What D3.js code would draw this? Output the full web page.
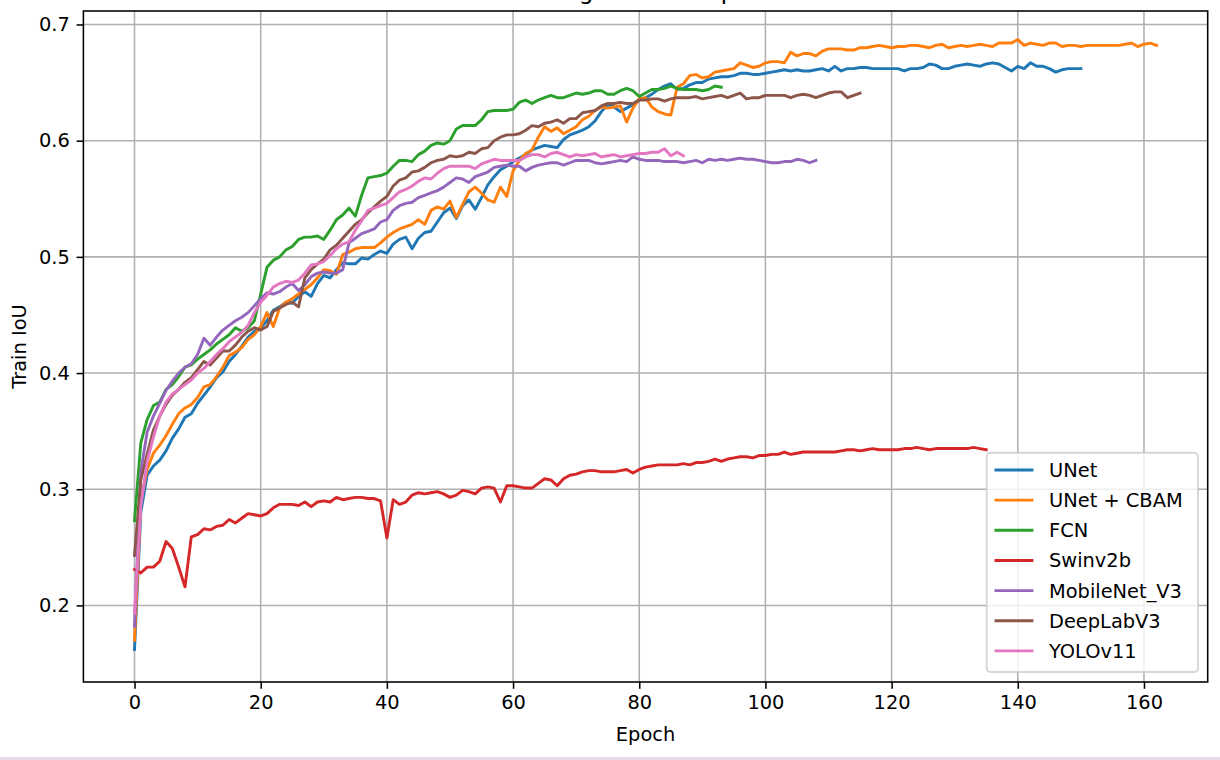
<!DOCTYPE html>
<html lang="en">
<head>
<meta charset="UTF-8">
<title>Train IoU per Epoch</title>
<script src="https://cdn.jsdelivr.net/npm/d3@7"></script>
<style>
  body { margin: 0; background: #fff; }
  svg { display: block; font-family: "DejaVu Sans", sans-serif; }
  .tick text { font-size: 19.4px; fill: #000; }
</style>
</head>
<body>
<svg width="1220" height="760"></svg>
<script>
// tick labels
const xTicks = [0, 20, 40, 60, 80, 100, 120, 140, 160];
const yTicks = [0.2, 0.3, 0.4, 0.5, 0.6, 0.7];

// legend order and colours (matplotlib tab10)
const seriesNames = ["UNet", "UNet + CBAM", "FCN", "Swinv2b", "MobileNet_V3", "DeepLabV3", "YOLOv11"];
const seriesColors = ["#1f77b4", "#ff7f0e", "#2ca02c", "#d62728", "#9467bd", "#8c564b", "#e377c2"];

// train IoU per epoch, epoch = index
const unet = [
  0.162, 0.280, 0.312, 0.320, 0.325, 0.333, 0.344, 0.352, 0.362, 0.365,
  0.374, 0.381, 0.388, 0.396, 0.401, 0.410, 0.416, 0.423, 0.431, 0.436,
  0.439, 0.445, 0.454, 0.457, 0.461, 0.460, 0.466, 0.470, 0.466, 0.477,
  0.484, 0.482, 0.489, 0.495, 0.494, 0.494, 0.499, 0.498, 0.502, 0.505,
  0.503, 0.511, 0.515, 0.517, 0.507, 0.516, 0.521, 0.522, 0.530, 0.538,
  0.542, 0.533, 0.544, 0.549, 0.541, 0.551, 0.562, 0.569, 0.575, 0.578,
  0.582, 0.585, 0.588, 0.592, 0.594, 0.596, 0.595, 0.594, 0.601, 0.605,
  0.607, 0.609, 0.612, 0.617, 0.625, 0.631, 0.629, 0.625, 0.628, 0.631,
  0.635, 0.637, 0.640, 0.644, 0.647, 0.649, 0.644, 0.645, 0.648, 0.650,
  0.650, 0.653, 0.654, 0.655, 0.655, 0.656, 0.658, 0.658, 0.657, 0.657,
  0.658, 0.659, 0.660, 0.661, 0.660, 0.661, 0.660, 0.660, 0.661, 0.662,
  0.660, 0.664, 0.660, 0.662, 0.662, 0.663, 0.663, 0.662, 0.662, 0.662,
  0.662, 0.662, 0.660, 0.662, 0.662, 0.663, 0.666, 0.665, 0.662, 0.662,
  0.664, 0.665, 0.666, 0.665, 0.664, 0.666, 0.667, 0.666, 0.663, 0.660,
  0.664, 0.662, 0.667, 0.664, 0.664, 0.662, 0.659, 0.661, 0.662, 0.662, 0.662
];
const unetCbam = [
  0.170, 0.290, 0.317, 0.331, 0.338, 0.346, 0.356, 0.365, 0.370, 0.373,
  0.379, 0.388, 0.390, 0.397, 0.405, 0.415, 0.418, 0.422, 0.429, 0.433,
  0.440, 0.452, 0.440, 0.456, 0.461, 0.464, 0.468, 0.472, 0.476, 0.482,
  0.489, 0.488, 0.485, 0.502, 0.504, 0.507, 0.508, 0.508, 0.508, 0.512,
  0.517, 0.521, 0.524, 0.526, 0.528, 0.532, 0.528, 0.540, 0.543, 0.541,
  0.548, 0.534, 0.545, 0.556, 0.560, 0.555, 0.549, 0.547, 0.560, 0.552,
  0.574, 0.583, 0.589, 0.592, 0.603, 0.612, 0.608, 0.611, 0.606, 0.609,
  0.612, 0.618, 0.621, 0.626, 0.629, 0.628, 0.629, 0.630, 0.616, 0.628,
  0.636, 0.637, 0.629, 0.625, 0.623, 0.622, 0.646, 0.649, 0.656, 0.657,
  0.654, 0.655, 0.659, 0.660, 0.661, 0.662, 0.667, 0.665, 0.663, 0.664,
  0.667, 0.668, 0.668, 0.667, 0.676, 0.673, 0.675, 0.675, 0.673, 0.677,
  0.679, 0.679, 0.679, 0.678, 0.678, 0.680, 0.680, 0.681, 0.682, 0.681,
  0.680, 0.681, 0.681, 0.682, 0.682, 0.681, 0.680, 0.682, 0.683, 0.680,
  0.681, 0.682, 0.681, 0.682, 0.683, 0.682, 0.681, 0.684, 0.684, 0.684,
  0.687, 0.682, 0.684, 0.683, 0.682, 0.684, 0.684, 0.681, 0.682, 0.682,
  0.681, 0.682, 0.682, 0.682, 0.682, 0.682, 0.682, 0.683, 0.684, 0.681,
  0.683, 0.684, 0.682
];
const fcn = [
  0.273, 0.340, 0.360, 0.372, 0.375, 0.386, 0.390, 0.397, 0.405, 0.407,
  0.412, 0.416, 0.420, 0.425, 0.429, 0.433, 0.439, 0.436, 0.439, 0.445,
  0.468, 0.491, 0.497, 0.500, 0.506, 0.509, 0.515, 0.517, 0.517, 0.518,
  0.515, 0.523, 0.532, 0.536, 0.542, 0.535, 0.553, 0.568, 0.569, 0.570,
  0.572, 0.578, 0.583, 0.583, 0.582, 0.588, 0.591, 0.596, 0.598, 0.597,
  0.600, 0.610, 0.613, 0.613, 0.613, 0.618, 0.625, 0.626, 0.626, 0.626,
  0.627, 0.633, 0.635, 0.632, 0.635, 0.637, 0.639, 0.637, 0.637, 0.639,
  0.641, 0.640, 0.641, 0.643, 0.643, 0.640, 0.640, 0.643, 0.645, 0.643,
  0.638, 0.641, 0.644, 0.644, 0.645, 0.647, 0.645, 0.644, 0.644, 0.644,
  0.643, 0.644, 0.647, 0.646
];
const swinv2b = [
  0.231, 0.228, 0.233, 0.233, 0.238, 0.255, 0.249, 0.233, 0.216, 0.259,
  0.261, 0.266, 0.265, 0.268, 0.269, 0.274, 0.271, 0.275, 0.279, 0.278,
  0.277, 0.279, 0.284, 0.287, 0.287, 0.287, 0.286, 0.289, 0.285, 0.289,
  0.290, 0.289, 0.293, 0.291, 0.292, 0.293, 0.293, 0.292, 0.292, 0.290,
  0.258, 0.291, 0.287, 0.289, 0.295, 0.297, 0.296, 0.297, 0.298, 0.296,
  0.293, 0.295, 0.299, 0.298, 0.296, 0.301, 0.302, 0.301, 0.289, 0.303,
  0.303, 0.302, 0.301, 0.301, 0.305, 0.309, 0.308, 0.303, 0.309, 0.312,
  0.313, 0.315, 0.316, 0.316, 0.315, 0.315, 0.315, 0.316, 0.317, 0.314,
  0.317, 0.319, 0.320, 0.321, 0.321, 0.321, 0.321, 0.322, 0.321, 0.323,
  0.323, 0.324, 0.326, 0.324, 0.326, 0.327, 0.328, 0.328, 0.327, 0.329,
  0.329, 0.330, 0.330, 0.332, 0.330, 0.331, 0.332, 0.332, 0.332, 0.332,
  0.332, 0.332, 0.333, 0.334, 0.334, 0.333, 0.334, 0.335, 0.334, 0.334,
  0.334, 0.334, 0.335, 0.335, 0.336, 0.335, 0.334, 0.335, 0.335, 0.335,
  0.335, 0.335, 0.335, 0.336, 0.335, 0.334
];
const mobilenetV3 = [
  0.182, 0.315, 0.349, 0.363, 0.374, 0.385, 0.393, 0.400, 0.405, 0.408,
  0.416, 0.430, 0.424, 0.431, 0.437, 0.441, 0.445, 0.448, 0.452, 0.458,
  0.464, 0.469, 0.468, 0.470, 0.474, 0.477, 0.471, 0.476, 0.483, 0.486,
  0.487, 0.486, 0.486, 0.489, 0.512, 0.516, 0.520, 0.522, 0.524, 0.530,
  0.532, 0.540, 0.544, 0.546, 0.547, 0.551, 0.553, 0.555, 0.557, 0.560,
  0.564, 0.568, 0.567, 0.564, 0.569, 0.571, 0.573, 0.577, 0.578, 0.579,
  0.578, 0.578, 0.574, 0.577, 0.579, 0.580, 0.581, 0.581, 0.579, 0.581,
  0.583, 0.583, 0.583, 0.581, 0.580, 0.581, 0.582, 0.583, 0.582, 0.586,
  0.584, 0.583, 0.583, 0.583, 0.582, 0.582, 0.582, 0.581, 0.582, 0.583,
  0.581, 0.584, 0.583, 0.584, 0.583, 0.584, 0.585, 0.584, 0.584, 0.583,
  0.582, 0.581, 0.581, 0.582, 0.582, 0.584, 0.583, 0.581, 0.583
];
const deeplabV3 = [
  0.243, 0.308, 0.330, 0.351, 0.363, 0.373, 0.381, 0.386, 0.392, 0.396,
  0.403, 0.410, 0.407, 0.413, 0.419, 0.419, 0.424, 0.431, 0.436, 0.439,
  0.437, 0.440, 0.453, 0.456, 0.459, 0.461, 0.457, 0.482, 0.489, 0.494,
  0.498, 0.506, 0.510, 0.516, 0.522, 0.528, 0.532, 0.538, 0.543, 0.548,
  0.552, 0.561, 0.566, 0.568, 0.573, 0.574, 0.577, 0.581, 0.583, 0.584,
  0.587, 0.586, 0.587, 0.590, 0.589, 0.593, 0.594, 0.600, 0.603, 0.605,
  0.605, 0.606, 0.609, 0.613, 0.612, 0.615, 0.616, 0.618, 0.615, 0.619,
  0.619, 0.624, 0.625, 0.626, 0.630, 0.632, 0.632, 0.633, 0.632, 0.632,
  0.635, 0.635, 0.636, 0.636, 0.634, 0.636, 0.637, 0.637, 0.637, 0.638,
  0.636, 0.637, 0.638, 0.639, 0.637, 0.639, 0.641, 0.636, 0.637, 0.637,
  0.639, 0.639, 0.639, 0.639, 0.637, 0.639, 0.640, 0.639, 0.637, 0.639,
  0.641, 0.642, 0.642, 0.637, 0.639, 0.641
];
const yolov11 = [
  0.193, 0.285, 0.324, 0.345, 0.363, 0.375, 0.382, 0.386, 0.390, 0.394,
  0.400, 0.404, 0.410, 0.416, 0.421, 0.427, 0.431, 0.435, 0.441, 0.452,
  0.461, 0.467, 0.474, 0.477, 0.479, 0.478, 0.480, 0.486, 0.493, 0.494,
  0.496, 0.501, 0.507, 0.511, 0.513, 0.523, 0.531, 0.540, 0.542, 0.544,
  0.546, 0.551, 0.556, 0.558, 0.561, 0.565, 0.568, 0.567, 0.572, 0.576,
  0.578, 0.578, 0.578, 0.578, 0.576, 0.580, 0.582, 0.584, 0.583, 0.583,
  0.583, 0.583, 0.586, 0.588, 0.588, 0.586, 0.589, 0.590, 0.588, 0.586,
  0.588, 0.587, 0.588, 0.589, 0.586, 0.587, 0.588, 0.586, 0.587, 0.588,
  0.589, 0.589, 0.590, 0.590, 0.593, 0.587, 0.590, 0.587
];

const seriesValues = [unet, unetCbam, fcn, swinv2b, mobilenetV3, deeplabV3, yolov11];

// plot box
const margin = { left: 83.4, right: 1207.7, top: 11, bottom: 682 };
const px = 140 / 72; // points to pixels

const svg = d3.select("svg");

// bottom strip of the screenshot
svg.append("rect")
  .attr("x", 0).attr("y", 757).attr("width", 1220).attr("height", 3)
  .attr("fill", "#ecd9e8");

const x = d3.scaleLinear().domain([-8.1, 170.1]).range([margin.left, margin.right]);
const y = d3.scaleLinear().domain([0.1341, 0.7116]).range([margin.bottom, margin.top]);

svg.append("defs").append("clipPath").attr("id", "plotClip")
  .append("rect")
  .attr("x", margin.left).attr("y", margin.top)
  .attr("width", margin.right - margin.left)
  .attr("height", margin.bottom - margin.top);

// grid
const grid = svg.append("g").attr("stroke", "#b0b0b0").attr("stroke-width", 0.8 * px);
grid.selectAll(".gx").data(xTicks).enter().append("line")
  .attr("x1", d => x(d)).attr("x2", d => x(d))
  .attr("y1", margin.top).attr("y2", margin.bottom);
grid.selectAll(".gy").data(yTicks).enter().append("line")
  .attr("x1", margin.left).attr("x2", margin.right)
  .attr("y1", d => y(d)).attr("y2", d => y(d));

// lines
const line = d3.line()
  .x((d, i) => x(i))
  .y(d => y(d));

svg.append("g").attr("clip-path", "url(#plotClip)")
  .selectAll("path")
  .data(seriesValues)
  .enter()
  .append("path")
  .attr("d", d => line(d))
  .attr("fill", "none")
  .attr("stroke", (d, i) => seriesColors[i])
  .attr("stroke-width", 1.5 * px)
  .attr("stroke-linejoin", "round")
  .attr("stroke-linecap", "square");

// axes
const xAxis = svg.append("g")
  .attr("transform", "translate(0," + margin.bottom + ")")
  .call(d3.axisBottom(x).tickValues(xTicks).tickFormat(d3.format("d"))
    .tickSize(3.5 * px).tickPadding(3.5 * px));
const yAxis = svg.append("g")
  .attr("transform", "translate(" + margin.left + ",0)")
  .call(d3.axisLeft(y).tickValues(yTicks).tickFormat(d3.format(".1f"))
    .tickSize(3.5 * px).tickPadding(3.5 * px));
[xAxis, yAxis].forEach(a => {
  a.select(".domain").remove();
  a.selectAll(".tick line").attr("stroke", "#000").attr("stroke-width", 0.8 * px);
  a.attr("font-family", null).attr("font-size", null);
});

// spines
svg.append("rect")
  .attr("x", margin.left).attr("y", margin.top)
  .attr("width", margin.right - margin.left)
  .attr("height", margin.bottom - margin.top)
  .attr("fill", "none").attr("stroke", "#000").attr("stroke-width", 0.8 * px);

// labels
svg.append("text")
  .attr("x", (margin.left + margin.right) / 2).attr("y", 741)
  .attr("text-anchor", "middle").attr("font-size", 19.4)
  .text("Epoch");
svg.append("text")
  .attr("transform", "translate(26," + (margin.top + margin.bottom) / 2 + ") rotate(-90)")
  .attr("text-anchor", "middle").attr("font-size", 19.4)
  .text("Train IoU");
svg.append("text")
  .attr("x", (margin.left + margin.right) / 2).attr("y", -0.7)
  .attr("text-anchor", "middle").attr("font-size", 23.3)
  .text("Training IoU over Epochs");

// legend
const legend = svg.append("g");
legend.append("rect")
  .attr("x", 986.7).attr("y", 452.7).attr("width", 211.3).attr("height", 219.3)
  .attr("rx", 3.9)
  .attr("fill", "#fff").attr("fill-opacity", 0.8)
  .attr("stroke", "#cccccc").attr("stroke-opacity", 0.8).attr("stroke-width", px);
const rows = legend.selectAll(".row").data(seriesNames).enter().append("g")
  .attr("transform", (d, i) => "translate(0," + (470 + i * 30.15) + ")");
rows.append("line")
  .attr("x1", 994.5).attr("x2", 1033.4)
  .attr("stroke", (d, i) => seriesColors[i])
  .attr("stroke-width", 1.5 * px);
rows.append("text")
  .attr("x", 1049).attr("y", 7)
  .attr("font-size", 19.4)
  .text(d => d);
</script>
</body>
</html>
